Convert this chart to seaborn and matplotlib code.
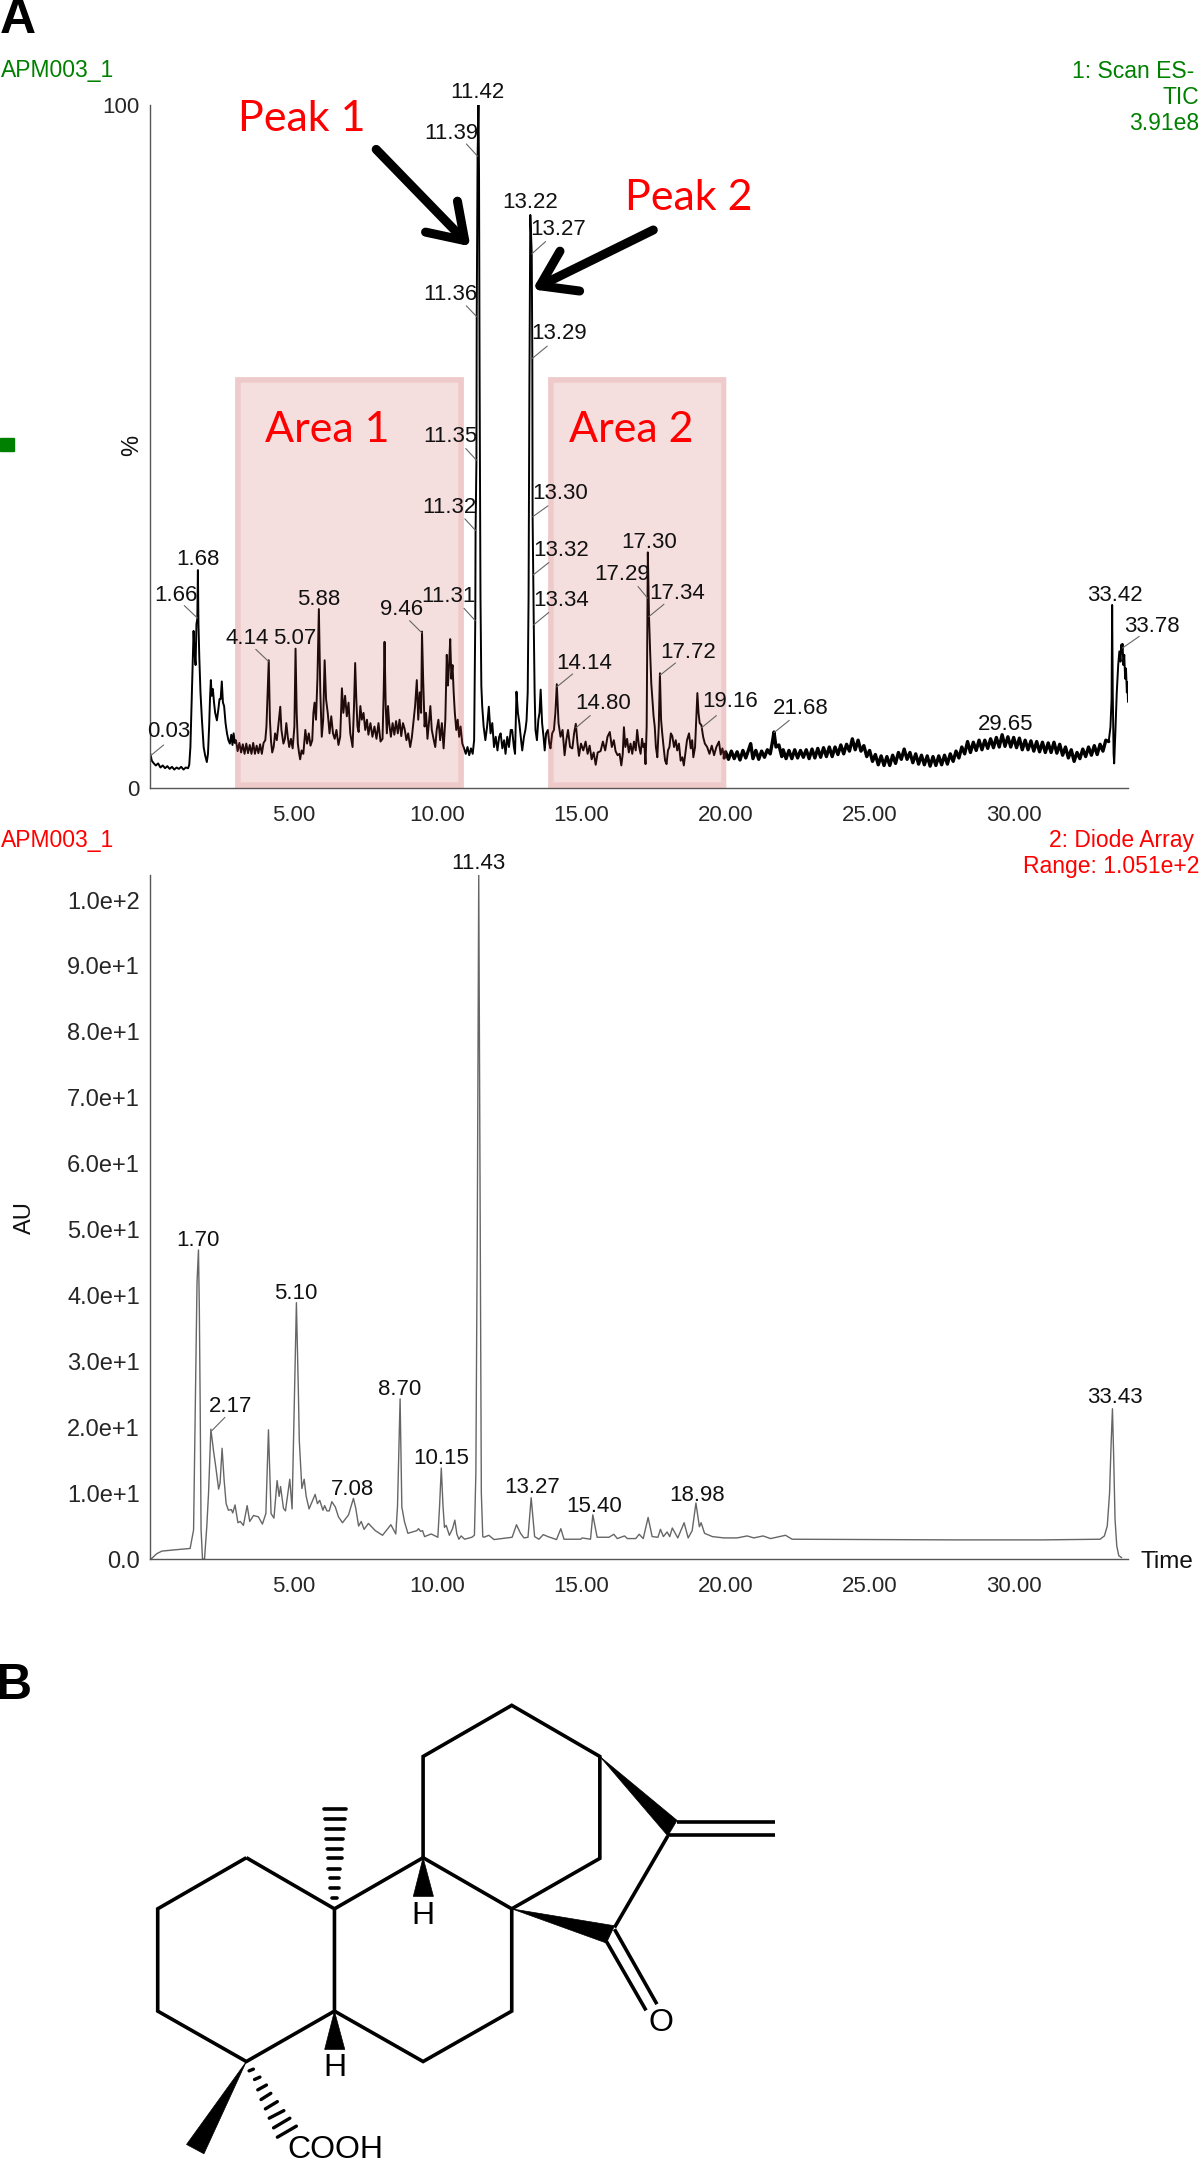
import numpy as np
import matplotlib
matplotlib.use("Agg")
import matplotlib.pyplot as plt
from matplotlib.patches import Rectangle, Polygon
import seaborn as sns

# TIC trace as (time, percent)
tic_start = [(0.00,4.0),(0.03,5.0),(0.08,4.0),(0.15,3.6),(0.22,3.3),(0.30,3.6),(0.38,3.0),(0.46,3.3),(0.54,2.9),
    (0.62,3.2),(0.70,2.8),(0.78,3.1),(0.86,2.7),(0.94,3.0),(1.02,2.8),(1.10,3.1),(1.18,2.7),(1.26,3.0),(1.34,2.9),
    (1.38,3.4),(1.42,6),(1.47,14),(1.53,23),(1.56,20),(1.60,18),(1.63,24),(1.66,24.8),(1.68,31.9),(1.70,24),
    (1.73,19),(1.77,14),(1.82,10),(1.88,6),(1.93,4.8),(1.99,3.8),(2.03,5),(2.07,9),(2.10,13),(2.13,15.8),(2.16,13.5),
    (2.20,14.5),(2.24,12.5),(2.28,11),(2.34,9.9),(2.39,11.5),(2.43,13),(2.47,13),(2.51,15.6),(2.55,12.5),(2.59,12),
    (2.64,9.5),(2.69,8),(2.74,7),(2.79,6.5),(2.84,7.8),(2.88,6.3),(2.92,8),(2.96,6.6)]
tic_area1a = [(3.00,7.0),(3.06,5.4),(3.12,6.6),(3.18,5.2),(3.24,6.4),(3.30,5.0),(3.36,6.5),(3.42,5.1),(3.48,6.3),
    (3.54,5.0),(3.60,6.6),(3.66,5.0),(3.72,6.2),(3.78,5.1),(3.84,6.4),(3.90,5.0),(3.96,6.6),(4.02,7.0),(4.06,9.0),
    (4.10,14),(4.14,18.7),(4.18,10),(4.22,6.8),(4.26,5.2),(4.31,6.0),(4.36,8.0),(4.42,7.0),(4.48,9.5),(4.54,11.9),
    (4.58,8.5),(4.65,6.5),(4.70,7.2),(4.75,9.5),(4.80,7.5),(4.85,6.0),(4.91,7.2),(4.97,5.8),(5.03,9),(5.07,20.4),
    (5.11,11),(5.15,6.5),(5.19,5.2),(5.23,4.2),(5.28,5.5),(5.34,5.0),(5.41,8.5),(5.47,6.5),(5.53,8),(5.59,6.2),
    (5.65,7),(5.69,11),(5.73,12.5),(5.78,10),(5.83,16),(5.88,26.2),(5.93,14),(5.98,7.5),(6.03,10),(6.08,18.7),
    (6.13,13),(6.19,10.9),(6.25,8),(6.31,10.5),(6.37,8),(6.43,7.2),(6.49,8.5),(6.56,6.3),(6.62,7.5),(6.68,14.6),
    (6.73,11),(6.79,13.5),(6.85,10.5),(6.91,12.5),(6.97,8),(7.05,6.0)]
tic_area1b = [(7.10,12),(7.14,18.3),(7.18,13),(7.22,9.0),(7.26,8.2),(7.32,12),(7.37,10),(7.43,11),(7.49,8.5),
    (7.55,10),(7.60,7.8),(7.67,9.5),(7.74,7.5),(7.81,9),(7.88,7.2),(7.95,9.5),(8.02,6.8),(8.09,7.2),(8.13,14),
    (8.16,21.4),(8.20,12),(8.24,8),(8.28,12),(8.32,9.5),(8.38,7.5),(8.44,9.5),(8.50,7.8),(8.56,9.8),(8.62,8),
    (8.68,10),(8.74,7.6),(8.80,9.5),(8.86,8.6),(8.92,7),(8.98,8),(9.05,6),(9.11,7.5),(9.17,10),(9.22,12),(9.28,15.8),
    (9.33,10),(9.38,14),(9.43,11),(9.46,22.9),(9.50,16),(9.55,9),(9.60,11),(9.65,7.2),(9.70,9.5),(9.75,12),
    (9.80,8.5),(9.86,7.2),(9.92,6),(9.97,8.5),(10.03,10),(10.09,7),(10.15,9.5),(10.21,5.8),(10.27,10),(10.32,19.5),
    (10.36,15),(10.40,18),(10.44,21.8),(10.48,16),(10.52,18),(10.56,14),(10.60,11),(10.65,8.5),(10.70,10),(10.75,7.5),
    (10.80,9),(10.86,6.5),(10.92,5.8),(10.98,5.0),(11.04,6),(11.10,4.8),(11.16,5.8),(11.22,5.0),(11.27,7),(11.31,24.8)]
tic_peaks = [(11.32,37.6),(11.35,48),(11.36,69),(11.39,92.5),(11.42,100),(11.44,90),(11.46,60),(11.49,28),(11.52,15),
    (11.55,12),(11.60,9),(11.66,7),(11.72,9),(11.78,11.9),(11.84,8),(11.90,9.5),(11.96,6),(12.02,7.5),(12.08,5.5),
    (12.14,7.5),(12.19,8),(12.25,5.8),(12.31,7),(12.36,5),(12.42,7.5),(12.48,6),(12.54,8.5),(12.59,8.5),(12.65,6),
    (12.69,5),(12.74,14.1),(12.79,11),(12.84,9.5),(12.90,7),(12.94,5.5),(13.00,7.5),(13.05,8.5),(13.09,9.9),(13.13,14),
    (13.16,28),(13.19,60),(13.22,83.9),(13.27,78.3),(13.29,63),(13.30,39.7),(13.32,31.3),(13.34,24),(13.37,14)]
tic_area2 = [(13.40,8.5),(13.45,7),(13.50,10),(13.54,11),(13.58,14.4),(13.63,9.5),(13.68,7.5),(13.72,5.5),(13.77,8),
    (13.83,8.5),(13.88,6.5),(13.92,5.8),(13.98,8),(14.04,8.5),(14.09,11),(14.14,15.2),(14.20,9.5),(14.27,7.5),(14.34,8.5),
    (14.41,4.8),(14.47,7),(14.53,8.5),(14.60,6),(14.68,5.8),(14.74,8),(14.80,9.4),(14.86,6.5),(14.91,4.7),(14.98,6.5),
    (15.06,5.5),(15.14,6.8),(15.21,5),(15.28,6.2),(15.35,4.2),(15.42,5.2),(15.49,3.4),(15.56,5.2),(15.66,5.4),(15.74,6.8),
    (15.82,5.5),(15.90,7.5),(15.98,8.2),(16.05,6),(16.12,7),(16.18,5.4),(16.25,4.8),(16.32,5),(16.38,3.3),(16.43,5),
    (16.47,8.9),(16.52,6),(16.58,7.2),(16.64,5.2),(16.70,6.5),(16.76,5),(16.82,6.8),(16.88,5.5),(16.93,8.5),(16.99,6.2),
    (17.05,5),(17.10,7.2),(17.14,6),(17.18,6.5),(17.22,3.5),(17.26,9),(17.29,28.3),(17.30,34.5),(17.34,25.3),(17.38,20),
    (17.42,15.3),(17.46,13),(17.50,10.5),(17.54,9),(17.58,6),(17.63,4.5),(17.68,9),(17.72,16.8),(17.76,10),(17.80,8),
    (17.86,5.5),(17.90,4),(17.95,3.5),(18.00,5.5),(18.05,6),(18.10,8),(18.15,7.6),(18.21,6),(18.27,7),(18.32,5.5),
    (18.38,6.5),(18.44,4),(18.50,4.5),(18.55,3.3),(18.60,5),(18.66,7),(18.73,8),(18.79,5.8),(18.84,7),(18.88,4.5),
    (18.94,6),(19.02,13.9),(19.06,11),(19.10,9.5),(19.16,9.2),(19.22,7.5),(19.28,6.5),(19.36,6),(19.44,5),(19.52,6.2),
    (19.60,4.8),(19.68,6),(19.77,6.8),(19.83,4.9),(19.89,5.8),(19.95,4.4)]
tic_mid = [(20.0,5.3),(20.1,4.2),(20.2,5.4),(20.3,4.3),(20.4,5.3),(20.5,4.1),(20.6,5.5),(20.7,4.4),(20.8,5.6),(20.87,6.5),
    (20.95,4.3),(21.05,5.5),(21.15,4.2),(21.25,5.4),(21.35,4.5),(21.45,5.6),(21.55,5.0),(21.62,6.6),(21.68,8.2),(21.75,6.0),
    (21.85,6.3),(21.95,4.6)]
tic_tail_a = [(22.0,5.6),(22.1,4.3),(22.2,5.5),(22.3,4.3),(22.4,5.6),(22.5,4.4),(22.6,5.5),(22.7,4.5),(22.8,5.6),(22.9,4.3),
    (23.0,5.7),(23.1,4.4),(23.2,5.8),(23.3,4.5),(23.4,5.9),(23.5,4.6),(23.6,6.0),(23.7,4.6),(23.8,6.0),(23.9,4.9),(24.0,6.3),
    (24.1,5.0),(24.2,6.4),(24.3,5.4),(24.4,7.2),(24.5,5.6),(24.6,7.0),(24.7,5.4),(24.8,6.2),(24.9,4.6),(25.0,5.5),(25.1,3.9),
    (25.2,4.9),(25.3,3.4),(25.4,4.7),(25.5,3.3),(25.6,4.6),(25.7,3.3),(25.8,4.8),(25.9,3.6),(26.0,5.2),(26.1,4.2),(26.2,5.7),
    (26.3,4.2),(26.4,5.2),(26.5,3.7),(26.6,5.0),(26.7,3.5),(26.8,4.8),(26.9,3.4),(27.0,4.7),(27.1,3.2),(27.2,4.6),(27.3,3.3),
    (27.4,4.7),(27.5,3.4),(27.6,4.8),(27.7,3.5),(27.8,5.0),(27.9,3.9)]
tic_tail_b = [(28.0,5.4),(28.1,4.4),(28.2,6.0),(28.3,5.0),(28.4,6.8),(28.5,5.2),(28.6,6.7),(28.7,5.5),(28.8,7.0),(28.9,5.6),
    (29.0,7.0),(29.1,5.8),(29.2,7.2),(29.3,5.9),(29.4,7.4),(29.5,6.0),(29.6,7.8),(29.7,6.1),(29.8,7.5),(29.9,6.0),(30.0,7.4),
    (30.1,5.9),(30.2,7.3),(30.3,5.6),(30.4,7.0),(30.5,5.6),(30.6,6.9),(30.7,5.4),(30.8,6.8),(30.9,5.3),(31.0,6.7),(31.1,5.2),
    (31.2,6.6),(31.3,5.2),(31.4,6.7),(31.5,5.1),(31.6,6.4),(31.7,4.8),(31.8,6.0),(31.9,4.4),(32.0,5.6),(32.1,3.9),(32.2,5.2),
    (32.3,4.3),(32.4,5.7),(32.5,4.6),(32.6,6.0),(32.7,4.8),(32.8,6.2),(32.9,4.9),(33.0,6.4),(33.1,5.4),(33.2,7.0),(33.3,6.8)]
tic_last = [(33.36,8.9),(33.40,13),(33.42,26.8),(33.44,14),(33.47,5),(33.49,3.6),(33.53,8),(33.58,14),(33.63,18),(33.67,20),(33.71,18.5),
    (33.74,21),(33.76,20.0),(33.78,21.1),(33.81,18),(33.84,19.5),(33.87,16),(33.90,17.5),(33.93,14),(33.95,15.5),(33.97,12.6)]

# diode array trace as (time, AU)
dad_start = [(0.00,0.0),(0.08,0.1),(0.25,0.8),(0.43,1.2),(0.9,1.4),(1.41,1.6),(1.53,4.4),(1.59,23),(1.65,42),(1.70,46.9),
    (1.73,38),(1.76,23),(1.79,4.5),(1.84,0.0),(1.91,0.0),(1.99,5),(2.05,10),(2.13,19.7),(2.22,16.5),(2.30,14),(2.40,10.6),
    (2.45,11.5),(2.52,16.8),(2.59,12),(2.66,8.4),(2.74,7.4),(2.84,7.5),(2.89,7),(2.97,8.2),(3.07,5.5),(3.15,5.7),(3.26,5.1),
    (3.39,8.1),(3.48,5.7),(3.61,6.6),(3.78,6.4),(3.92,5.3),(4.04,6.9),(4.13,19.6),(4.22,6.9),(4.32,6.2),(4.43,11.9),
    (4.50,9.5),(4.55,11),(4.65,7.7),(4.72,7.3),(4.87,12.1),(4.95,7.6),(5.01,20),(5.10,38.9),(5.17,25),(5.20,18),(5.29,10.7),
    (5.37,12.1),(5.44,9.5),(5.54,7.6),(5.75,9.8),(5.83,8.4),(5.91,8.9),(6.02,7.4),(6.08,8.1),(6.16,7.3),(6.24,7.3),(6.33,8.7),
    (6.45,7.9),(6.56,6.4),(6.70,5.5),(6.91,6.7),(7.08,9.2),(7.16,7.7),(7.26,5),(7.35,5.7),(7.45,4.5),(7.60,5.4),(7.84,4.3)]
dad_mid = [(8.09,3.6),(8.38,5.2),(8.55,3.8),(8.61,8),(8.70,24.3),(8.76,7.9),(8.85,5.7),(8.97,3.9),(9.28,4.3),(9.34,4.6),
    (9.41,4.2),(9.48,4.3),(9.55,3.4),(9.78,3.8),(10.01,3.3),(10.07,8),(10.13,13.8),(10.19,8),(10.24,4.8),(10.30,5.1),(10.41,3.6),
    (10.52,4.6),(10.60,5.9),(10.67,3.8),(10.74,3.0),(10.82,3.5),(10.94,3.0),(11.19,3.3),(11.28,3.6),(11.33,13),(11.38,50),
    (11.43,103.8),(11.48,50),(11.52,10),(11.57,3.4),(11.61,3.3),(11.78,3.6),(11.96,2.95),(12.59,3.3),(12.74,5.2),(12.88,3.9),
    (13.00,3.2),(13.14,3.3),(13.25,9.3),(13.37,3.4),(13.52,3.0),(13.67,3.7),(13.83,3.4),(14.13,2.95),(14.28,4.6),(14.39,3.0),
    (14.97,3.0),(15.02,3.2),(15.31,3.0),(15.39,6.7),(15.54,3.3),(15.95,3.3),(16.12,3.75),(16.24,3.1),(16.49,3.5),(16.59,3.1)]
dad_end = [(16.88,3.1),(17.00,3.75),(17.14,3.1),(17.31,6.3),(17.45,3.4),(17.65,3.3),(17.74,4.5),(17.84,3.4),(17.97,4.1),
    (18.06,3.4),(18.15,4.7),(18.34,3.2),(18.56,5.5),(18.70,3.2),(18.84,4.3),(18.97,8.5),(19.09,4.9),(19.15,5.5),(19.27,3.9),
    (19.54,3.4),(19.94,3.2),(20.40,3.2),(20.75,3.5),(20.98,3.2),(21.30,3.5),(21.56,3.1),(22.08,3.6),(22.31,3.0),(25.0,2.95),
    (28.0,2.9),(31.0,2.9),(33.0,3.0),(33.15,3.5),(33.25,5),(33.33,10),(33.38,17),(33.43,22.8),(33.47,16),(33.52,6),(33.58,2),
    (33.65,0.5),(33.75,0.2)]

# top panel peak labels: text, label centre, leader start, leader end
tic_labels = ["11.39","11.36","11.35","11.32","11.31","13.27","13.29","13.30","13.32","13.34","1.66","0.03","4.14",
    "9.46","14.14","14.80","17.29","17.34","17.72","19.16","21.68","33.78"]
tic_label_t = [10.48,10.45,10.43,10.40,10.37,14.20,14.23,14.26,14.28,14.28,0.92,0.68,3.40,8.74,15.09,15.75,16.42,18.30,18.70,20.14,22.62,34.79]
tic_label_y = [95.8,72.3,51.5,41.1,28.0,81.7,66.5,43.1,34.8,27.5,28.2,8.2,21.9,26.2,18.3,12.4,31.3,28.5,19.9,12.6,11.6,23.7]
tic_lead_t = [11.0,11.0,10.98,10.95,10.92,13.75,13.81,13.83,13.86,13.86,1.21,0.49,3.69,9.03,14.69,15.30,16.96,17.86,18.26,19.68,22.21,34.36]
tic_lead_y = [94.3,70.6,49.7,39.4,26.3,80.0,64.7,41.3,33.0,25.7,26.7,6.3,20.3,24.5,16.7,10.6,29.5,26.9,18.3,10.6,9.9,22.2]
tic_end_t = [11.39,11.36,11.35,11.32,11.31,13.27,13.29,13.30,13.32,13.34,1.66,0.03,4.14,9.46,14.14,14.80,17.29,17.34,17.72,19.16,21.68,33.78]
tic_end_y = [92.5,69.0,48.0,37.7,24.5,78.2,62.9,39.7,31.2,23.9,24.9,4.7,18.5,22.7,14.8,8.8,27.8,25.1,16.5,8.8,8.1,20.5]
tic_top_labels = ["11.42","13.22","1.68","5.07","5.88","17.30","29.65","33.42"]
tic_top_t = [11.39,13.20,1.68,5.03,5.86,17.33,29.72,33.51]
tic_top_y = [101.8,85.7,33.5,21.9,27.6,36.0,9.3,28.2]

dad_labels = ["11.43","1.70","5.10","7.08","8.70","10.15","13.27","15.40","18.98","33.43","2.17"]
dad_label_t = [11.42,1.68,5.08,7.06,8.69,10.14,13.27,15.43,19.01,33.52,2.81]
dad_label_y = [105.5,48.4,40.3,10.5,25.7,15.2,10.8,8.0,9.7,24.5,23.1]
dad_lead_t = [2.62,2.17]
dad_lead_y = [21.5,19.5]

# shaded regions and callouts
area_names = ["Area 1","Area 2"]
area_start = [2.97,13.85]
area_end = [10.93,20.03]
area_top = 60.2
area_text_t = [6.17,16.74]
area_text_y = [52.4,52.4]
peak_names = ["Peak 1","Peak 2"]
peak_text_t = [5.29,18.72]
peak_text_y = [97.9,86.4]
arrow_from = [(7.87,93.5),(17.49,81.7)]
arrow_to = [(11.14,79.3),(13.30,73.0)]

# structure drawing, in units of a 1563x1563 canvas
ring_paths = [
    [(453,688),(290,836),(290,1132),(453,1278),(615,1132),(615,836),(453,688)],
    [(615,836),(778,688),(941,836),(941,1132),(778,1278),(615,1132)],
    [(778,688),(778,395),(941,247),(1103,395),(1103,690),(941,836)],
    [(1228,625),(1130,890)],
    [(1245,585),(1425,585)],
    [(1228,622),(1425,622)],
    [(1130,895),(1208,1112)],
    [(1115,930),(1188,1130)],
]
wedges = [
    [(1103,395),(1245,580),(1228,625)],
    [(941,836),(1130,885),(1115,935)],
    [(778,688),(760,800),(797,800)],
    [(615,1132),(597,1243),(634,1243)],
    [(453,1278),(343,1518),(375,1545)],
]
hash_up = [
    [(610,805),(620,805)],[(607,776),(623,776)],[(606,748),(624,748)],[(604,720),(626,720)],[(603,690),(628,690)],
    [(602,662),(629,662)],[(600,634),(631,634)],[(599,605),(633,605)],[(597,577),(634,577)],[(595,547),(636,547)],
]
hash_down = [
    [(458,1305),(466,1300)],[(468,1330),(478,1323)],[(474,1360),(490,1346)],[(480,1388),(498,1370)],
    [(488,1415),(510,1394)],[(495,1442),(522,1420)],[(503,1470),(533,1442)],[(510,1497),(545,1465)],
]
atom_names = ["H","H","O","COOH"]
atom_x = [778,615,1215,617]
atom_y = [857,1297,1167,1533]

GREEN = "#008000"
RED = "#ff0000"
AXIS = "#555555"
FONT = "Liberation Sans"


def to_frame(*blocks):
    rows = np.array([p for b in blocks for p in b], dtype=float)
    return rows[:, 0], rows[:, 1]


def px_axes(fig, left, top, right, bottom):
    return fig.add_axes([left / 1200, 1 - bottom / 2160, (right - left) / 1200, (bottom - top) / 2160])


def fig_text(fig, x, y, s, **kw):
    fig.text(x / 1200, 1 - y / 2160, s, **kw)


def style_axis(ax, ymax):
    sns.despine(ax=ax)
    for side in ("left", "bottom"):
        ax.spines[side].set_color(AXIS)
        ax.spines[side].set_linewidth(1.0)
    ax.set_xlim(0, 33.97)
    ax.set_ylim(0, ymax)
    ax.set_xlabel("")
    ax.set_ylabel("")
    ax.set_xticks(np.arange(0, 33.97, 2.5))
    ax.set_xticks(np.arange(0, 33.97, 0.5), minor=True)
    ax.set_xticklabels([f"{t:.2f}" if t > 0 and t % 5 == 0 else "" for t in np.arange(0, 33.97, 2.5)])
    ax.tick_params(axis="x", which="major", length=8, width=0.9, color=AXIS, labelsize=16, pad=4, labelfontfamily=FONT)
    ax.tick_params(axis="x", which="minor", length=4, width=0.9, color=AXIS)
    ax.patch.set_alpha(0)


sns.set_theme(style="white")
plt.rcParams["font.family"] = [FONT, "DejaVu Sans"]
fig = plt.figure(figsize=(12, 21.6), dpi=100)

# panel A, top trace: the noisy tail is a thicker band in the original
ax1 = px_axes(fig, 149.5, 105, 1128, 788)
tic_t, tic_y = to_frame(tic_start, tic_area1a, tic_area1b, tic_peaks, tic_area2)
sns.lineplot(x=tic_t, y=tic_y, ax=ax1, estimator=None, sort=False, color="black", linewidth=1.4)
tail_t, tail_y = to_frame(tic_area2[-1:], tic_mid, tic_tail_a, tic_tail_b)
sns.lineplot(x=tail_t, y=tail_y, ax=ax1, estimator=None, sort=False, color="black", linewidth=2.4)
last_t, last_y = to_frame(tic_tail_b[-1:], tic_last)
sns.lineplot(x=last_t, y=last_y, ax=ax1, estimator=None, sort=False, color="black", linewidth=1.4)
style_axis(ax1, 100)
ax1.set_yticks(np.arange(0, 101, 10))
ax1.set_yticklabels(["100" if v == 100 else "0" if v == 0 else "" for v in range(0, 101, 10)])
ax1.tick_params(axis="y", length=5, width=0.9, color=AXIS, labelsize=16, pad=2, labelfontfamily=FONT)

for start, end, name, tx, ty in zip(area_start, area_end, area_names, area_text_t, area_text_y):
    ax1.add_patch(Rectangle((start, 0), end - start, area_top, facecolor="#c84040", alpha=0.17, edgecolor="none", zorder=3))
    ax1.add_patch(Rectangle((start + 0.1, 0.4), end - start - 0.2, area_top - 0.9, fill=False,
                            edgecolor="#c84040", alpha=0.12, linewidth=4, zorder=3))
    ax1.text(tx, ty, name, color=RED, fontsize=31, family="Lato", ha="center", va="center", zorder=5)

for name, tx, ty in zip(peak_names, peak_text_t, peak_text_y):
    ax1.text(tx, ty, name, color=RED, fontsize=31, family="Lato", ha="center", va="center", zorder=5)
for a, b in zip(arrow_from, arrow_to):
    ax1.annotate("", xy=b, xytext=a, zorder=6,
                 arrowprops=dict(arrowstyle="->,head_length=0.75,head_width=0.5", color="black", lw=6.5,
                                 mutation_scale=32, shrinkA=0, shrinkB=0))

for s, t, y, lt, ly, et, ey in zip(tic_labels, tic_label_t, tic_label_y, tic_lead_t, tic_lead_y, tic_end_t, tic_end_y):
    ax1.plot([lt, et], [ly, ey], color="#666666", lw=0.8, zorder=4, clip_on=False)
    ax1.text(t, y, s, fontsize=16, ha="center", va="center", color="#111111", zorder=5, clip_on=False)
for s, t, y in zip(tic_top_labels, tic_top_t, tic_top_y):
    ax1.text(t, y, s, fontsize=16, ha="center", va="center", color="#111111", zorder=5, clip_on=False)

# panel A, bottom trace
ax2 = px_axes(fig, 149.5, 875, 1128, 1559)
dad_t, dad_y = to_frame(dad_start, dad_mid, dad_end)
sns.lineplot(x=dad_t, y=dad_y, ax=ax2, estimator=None, sort=False, color="#666666", linewidth=1.0)
style_axis(ax2, 103.8)
ax2.set_yticks(np.arange(0, 101, 10))
ax2.set_yticks(np.arange(0, 104, 1), minor=True)
ax2.set_yticklabels(["0.0"] + [f"{v:.1f}e+1" for v in range(1, 10)] + ["1.0e+2"])
ax2.tick_params(axis="y", which="major", length=5.5, width=0.9, color=AXIS, labelsize=17, pad=1.5, labelfontfamily=FONT)
ax2.tick_params(axis="y", which="minor", length=3.5, width=0.8, color=AXIS)
for s, t, y in zip(dad_labels, dad_label_t, dad_label_y):
    ax2.text(t, y, s, fontsize=16, ha="center", va="center", color="#111111", clip_on=False)
ax2.plot(dad_lead_t, dad_lead_y, color="#666666", lw=0.8)

# headers and side labels
fig_text(fig, 1, 70, "APM003_1", color=GREEN, fontsize=16.5, ha="left", va="center")
fig_text(fig, 1194, 71, "1: Scan ES-", color=GREEN, fontsize=16.5, ha="right", va="center")
fig_text(fig, 1199, 97, "TIC", color=GREEN, fontsize=16.5, ha="right", va="center")
fig_text(fig, 1199, 123, "3.91e8", color=GREEN, fontsize=16.5, ha="right", va="center")
fig_text(fig, 1, 840, "APM003_1", color=RED, fontsize=16.5, ha="left", va="center")
fig_text(fig, 1194, 840, "2: Diode Array", color=RED, fontsize=16.5, ha="right", va="center")
fig_text(fig, 1199, 866, "Range: 1.051e+2", color=RED, fontsize=16.5, ha="right", va="center")
fig_text(fig, 132, 445, "%", fontsize=17, rotation=90, ha="center", va="center", color="#111111")
fig_text(fig, 25, 1218, "AU", fontsize=17, rotation=90, ha="center", va="center", color="#111111")
fig_text(fig, 1167, 1562, "Time", fontsize=17.5, ha="center", va="center", color="#111111")
fig.add_artist(Rectangle((0, 1 - 451 / 2160), 14 / 1200, 13 / 2160, transform=fig.transFigure, color=GREEN))
fig_text(fig, 18, 20, "A", fontsize=36, fontweight="bold", ha="center", va="center", color="black")
fig_text(fig, 14, 1686, "B", fontsize=36, fontweight="bold", ha="center", va="center", color="black")

# panel B, structure
ax3 = px_axes(fig, 0, 1620, 850, 2160)
ax3.set_xlim(0, 1563)
ax3.set_ylim(1563, 0)
ax3.axis("off")
for path in ring_paths:
    xs, ys = zip(*path)
    ax3.plot(xs, ys, color="black", lw=2.6, solid_joinstyle="miter", solid_capstyle="butt")
for tri in wedges:
    ax3.add_patch(Polygon(tri, closed=True, facecolor="black", edgecolor="black", lw=0.5))
for seg in hash_up:
    xs, ys = zip(*seg)
    ax3.plot(xs, ys, color="black", lw=2.6, solid_capstyle="round")
for seg in hash_down:
    xs, ys = zip(*seg)
    ax3.plot(xs, ys, color="black", lw=2.4, solid_capstyle="round")
for s, x, y in zip(atom_names, atom_x, atom_y):
    ax3.text(x, y, s, fontsize=23, ha="center", va="center", color="black", clip_on=False)

fig.savefig("out.png", dpi=100)
